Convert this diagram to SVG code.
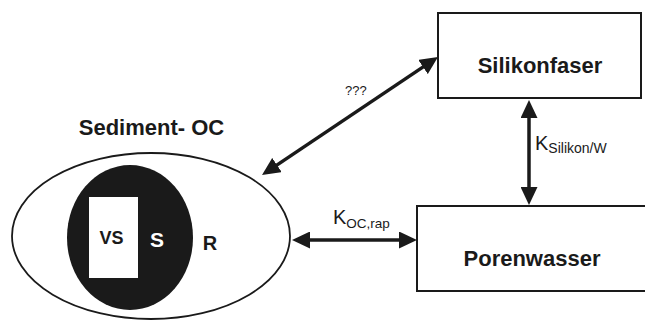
<svg xmlns="http://www.w3.org/2000/svg" width="645" height="321" viewBox="0 0 645 321">
  <style>
    text { font-family: "Liberation Sans", Arial, sans-serif; fill: #1a1a1a; }
    .title { font-size: 22px; font-weight: bold; }
    .box { fill: #ffffff; stroke: #1a1a1a; stroke-width: 2; }
    .conn { stroke: #1a1a1a; stroke-width: 3.5; fill: none; marker-start: url(#ah); marker-end: url(#ah); }
    .k { font-size: 20px; }
    .sub { font-size: 14px; }
  </style>
  <defs>
    <marker id="ah" markerUnits="userSpaceOnUse" markerWidth="18" markerHeight="17" refX="2" refY="8.5" orient="auto-start-reverse" viewBox="0 0 18 17">
      <path d="M0,0 L18,8.5 L0,17 z" fill="#1a1a1a"/>
    </marker>
  </defs>
  <rect width="645" height="321" fill="#ffffff"/>

  <g id="sediment">
    <text class="title" x="151.5" y="135" text-anchor="middle">Sediment- OC</text>
    <ellipse cx="151" cy="236" rx="139" ry="83" fill="#ffffff" stroke="#1a1a1a" stroke-width="1.8"/>
    <ellipse cx="130" cy="237.5" rx="63" ry="72.5" fill="#1a1a1a"/>
    <rect x="89" y="197" width="49" height="81" fill="#ffffff"/>
    <text x="111.5" y="244" text-anchor="middle" font-size="18" font-weight="bold">VS</text>
    <text x="157" y="247" text-anchor="middle" font-size="21" font-weight="bold" style="fill:#ffffff">S</text>
    <text x="210" y="250" text-anchor="middle" font-size="20" font-weight="bold">R</text>
  </g>

  <g id="silikonfaser">
    <rect class="box" x="438" y="13" width="203" height="85"/>
    <text class="title" x="540" y="73" text-anchor="middle">Silikonfaser</text>
  </g>

  <g id="porenwasser">
    <rect class="box" x="417" y="206" width="230" height="85"/>
    <text class="title" x="532" y="266" text-anchor="middle">Porenwasser</text>
  </g>

  <g id="connectors">
    <line class="conn" x1="275.3" y1="166.1" x2="424.7" y2="65.9"/>
    <line class="conn" x1="529" y1="116" x2="529" y2="189"/>
    <line class="conn" x1="308" y1="240" x2="401" y2="240"/>
    <text x="345" y="95" font-size="13">???</text>
    <text class="k" x="535" y="150">K<tspan class="sub" dy="3">Silikon/W</tspan></text>
    <text class="k" x="333" y="224">K<tspan class="sub" dy="4" style="font-size:13.5px">OC,rap</tspan></text>
  </g>
</svg>
